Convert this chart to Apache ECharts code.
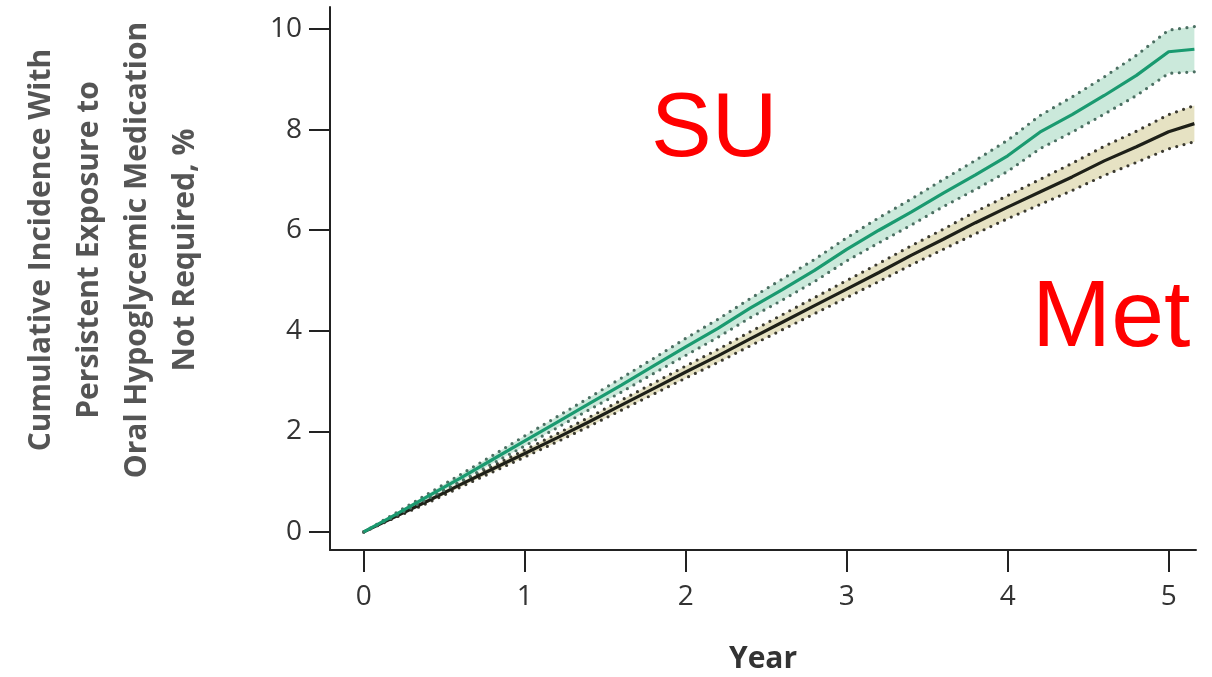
<!DOCTYPE html>
<html>
<head>
<meta charset="utf-8">
<script src="https://cdn.jsdelivr.net/npm/echarts@6/dist/echarts.min.js"></script>
<style>
  html, body { margin: 0; padding: 0; background: #fff; }
  #chart { width: 1212px; height: 677px; }
</style>
</head>
<body>
<div id="chart"></div>
<script>
// Follow-up time, years
const years = [0, 0.2, 0.4, 0.6, 0.8, 1.0, 1.2, 1.4, 1.6, 1.8, 2.0, 2.2, 2.4, 2.6, 2.8, 3.0, 3.2, 3.4, 3.6, 3.8, 4.0, 4.2, 4.4, 4.6, 4.8, 5.0, 5.16];

// Sulfonylurea: cumulative incidence (%) with 95% CI
const suEst = [0, 0.35, 0.71, 1.07, 1.44, 1.81, 2.18, 2.55, 2.92, 3.30, 3.68, 4.05, 4.45, 4.82, 5.20, 5.62, 6.00, 6.36, 6.74, 7.10, 7.48, 7.95, 8.30, 8.68, 9.08, 9.55, 9.60];
const suHi  = [0, 0.38, 0.76, 1.14, 1.52, 1.91, 2.29, 2.67, 3.06, 3.45, 3.85, 4.23, 4.64, 5.03, 5.42, 5.85, 6.25, 6.62, 7.01, 7.39, 7.79, 8.28, 8.65, 9.05, 9.48, 9.98, 10.05];
const suLo  = [0, 0.32, 0.66, 1.00, 1.36, 1.71, 2.07, 2.43, 2.78, 3.15, 3.51, 3.87, 4.26, 4.61, 4.98, 5.39, 5.75, 6.10, 6.47, 6.81, 7.17, 7.62, 7.95, 8.31, 8.68, 9.12, 9.15];

// Metformin: cumulative incidence (%) with 95% CI
const metEst = [0, 0.31, 0.62, 0.94, 1.25, 1.56, 1.87, 2.19, 2.52, 2.85, 3.18, 3.50, 3.84, 4.17, 4.50, 4.83, 5.16, 5.50, 5.82, 6.15, 6.46, 6.76, 7.06, 7.38, 7.66, 7.96, 8.12];
const metHi  = [0, 0.33, 0.66, 0.99, 1.31, 1.63, 1.95, 2.28, 2.62, 2.96, 3.30, 3.63, 3.98, 4.32, 4.66, 5.00, 5.34, 5.69, 6.02, 6.37, 6.69, 7.01, 7.33, 7.67, 7.97, 8.30, 8.48];
const metLo  = [0, 0.29, 0.58, 0.89, 1.19, 1.49, 1.79, 2.10, 2.42, 2.74, 3.06, 3.37, 3.70, 4.02, 4.34, 4.66, 4.98, 5.31, 5.62, 5.93, 6.23, 6.51, 6.79, 7.09, 7.35, 7.62, 7.76];

// Axis ticks
const xTicks = [0, 1, 2, 3, 4, 5];
const yTicks = [0, 2, 4, 6, 8, 10];

const pair = (xs, ys) => xs.map((x, i) => [x, ys[i]]);

const dotStyle = (color) => ({ color: color, width: 3.2, type: [0, 7.5], cap: 'round' });

// Confidence band: filled polygon between the lower and upper bounds
function bandFill(name, lo, hi, fill) {
  const rows = years.map((x, i) => [x, lo[i], hi[i]]);
  return {
    name: name + ' band', type: 'custom', silent: true,
    data: [0],
    renderItem: function (params, api) {
      const upper = rows.map(r => api.coord([r[0], r[2]]));
      const lower = rows.map(r => api.coord([r[0], r[1]])).reverse();
      return {
        type: 'polygon',
        shape: { points: upper.concat(lower) },
        style: { fill: fill }
      };
    }
  };
}

function boundLine(name, ys, dotColor) {
  return {
    name: name, type: 'line', symbol: 'none', silent: true,
    data: pair(years, ys), lineStyle: dotStyle(dotColor)
  };
}

const axisFont = { fontFamily: 'Open Sans', fontSize: 28, color: '#333' };

const option = {
  animation: false,
  backgroundColor: '#fff',
  grid: { left: 330, right: 16, top: 7, bottom: 127, outerBoundsMode: 'none', containLabel: false },
  xAxis: {
    type: 'value', min: -0.21, max: 5.17,
    name: 'Year', nameLocation: 'middle', nameGap: 94,
    nameTextStyle: { fontFamily: 'Open Sans', fontSize: 30, fontWeight: 'bold', color: '#333' },
    axisLine: { onZero: false, lineStyle: { color: '#222', width: 2 } },
    axisTick: { customValues: xTicks, length: 22, lineStyle: { color: '#222', width: 2 } },
    axisLabel: Object.assign({ customValues: xTicks, margin: 33 }, axisFont),
    splitLine: { show: false }
  },
  yAxis: {
    type: 'value', min: -0.36, max: 10.44,
    axisLine: { show: true, onZero: false, lineStyle: { color: '#222', width: 2 } },
    axisTick: { show: true, customValues: yTicks, length: 21, lineStyle: { color: '#222', width: 2 } },
    axisLabel: Object.assign({ customValues: yTicks, margin: 28 }, axisFont),
    splitLine: { show: false }
  },
  graphic: [
    {
      type: 'text', x: 113, y: 250, rotation: Math.PI / 2,
      style: {
        text: 'Cumulative Incidence With\nPersistent Exposure to\nOral Hypoglycemic Medication\nNot Required, %',
        fontFamily: 'Open Sans', fontSize: 30, fontWeight: 'bold', lineHeight: 48,
        fill: '#555', align: 'center', verticalAlign: 'middle'
      }
    },
    {
      type: 'text', x: 651, y: 131,
      style: { text: 'SU', fontFamily: 'Liberation Sans', fontSize: 91, fill: '#ff0000', align: 'left', verticalAlign: 'middle' }
    },
    {
      type: 'text', x: 1032, y: 320,
      style: { text: 'Met', fontFamily: 'Liberation Sans', fontSize: 95, fill: '#ff0000', align: 'left', verticalAlign: 'middle' }
    }
  ],
  series: [
    bandFill('Met', metLo, metHi, '#e6e2c3'),
    boundLine('Met lower', metLo, '#3b3a30'),
    boundLine('Met upper', metHi, '#3b3a30'),
    {
      name: 'Met', type: 'line', symbol: 'none', silent: true,
      data: pair(years, metEst), lineStyle: { color: '#1e2018', width: 3.2 }
    },
    bandFill('SU', suLo, suHi, '#cbe9db'),
    boundLine('SU lower', suLo, '#4b6f62'),
    boundLine('SU upper', suHi, '#4b6f62'),
    {
      name: 'SU', type: 'line', symbol: 'none', silent: true,
      data: pair(years, suEst), lineStyle: { color: '#1a9a70', width: 3.2 }
    }
  ]
};

echarts.init(document.getElementById('chart'), null, { renderer: 'canvas' }).setOption(option);
</script>
</body>
</html>
